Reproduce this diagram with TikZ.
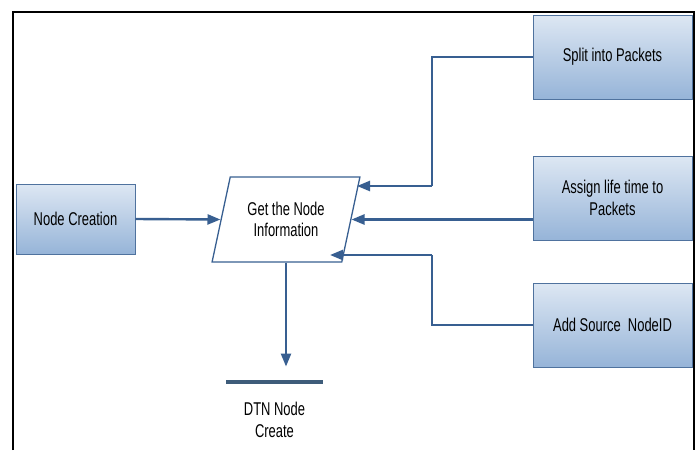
\documentclass[tikz,border=0pt]{standalone}
\usepackage{fontspec}
\setmainfont{Liberation Sans}[FakeStretch=0.70]
\usetikzlibrary{arrows.meta,shapes.geometric}
\definecolor{flowblue}{RGB}{56,95,145}
\definecolor{boxtop}{RGB}{221,231,243}
\definecolor{boxbottom}{RGB}{150,180,216}
\definecolor{boxedge}{RGB}{79,114,158}
\definecolor{barcol}{RGB}{62,92,122}

\begin{document}
\begin{tikzpicture}[x=1pt,y=-1pt,
    font=\fontsize{18.5}{21.7}\selectfont,
    procbox/.style={draw=boxedge, line width=0.9pt, top color=boxtop, bottom color=boxbottom,
      minimum width=159pt, minimum height=84pt, align=center, inner sep=2pt},
    link/.style={draw=flowblue, line width=2.4pt, -{Triangle[length=13pt,width=10pt]}},
    thinlink/.style={draw=flowblue, line width=1.1pt}
  ]
    \useasboundingbox (0,0) rectangle (699,450);
    \draw[line width=2.6pt] (13,450) -- (13,12) -- (694,12) -- (694,450);

    \node[procbox, minimum width=119pt, minimum height=70pt] (creation) at (75.5,219) {Node Creation};
    \node[procbox] (split) at (612.5,57) {Split into Packets};
    \node[procbox] (assign) at (612.5,198) {Assign life time to\\Packets};
    \node[procbox] (source) at (612.5,325) {Add Source\ \ NodeID};

    \node[trapezium, trapezium left angle=72, trapezium right angle=108, trapezium stretches=true,
      minimum width=148pt, minimum height=85pt, draw=flowblue, line width=1.3pt, align=center]
      (info) at (286,219.5) {Get the Node\\Information};

    \node[fill=barcol, minimum width=97pt, minimum height=4.5pt, inner sep=0pt] (bar) at (274.5,382) {};
    \node[align=center, below=14pt] (dtn) at (bar.south) {DTN Node\\Create};

    \coordinate (b1) at (432,186);
    \coordinate (t1) at (357,186);
    \coordinate (b2) at (432,255);
    \coordinate (t2) at (330,255);

    \draw[link] (creation.east) -- (info.west);
    \draw[link] (assign.west |- info.east) -- (info.east);
    \draw[thinlink] (split.west) -| (b1);
    \draw[link] (b1) -- (t1);
    \draw[thinlink] (source.west) -| (b2);
    \draw[link] (b2) -- (t2);
    \draw[link, shorten >=13pt] (info.south) -- (info.south |- bar.north);
\end{tikzpicture}
\end{document}
